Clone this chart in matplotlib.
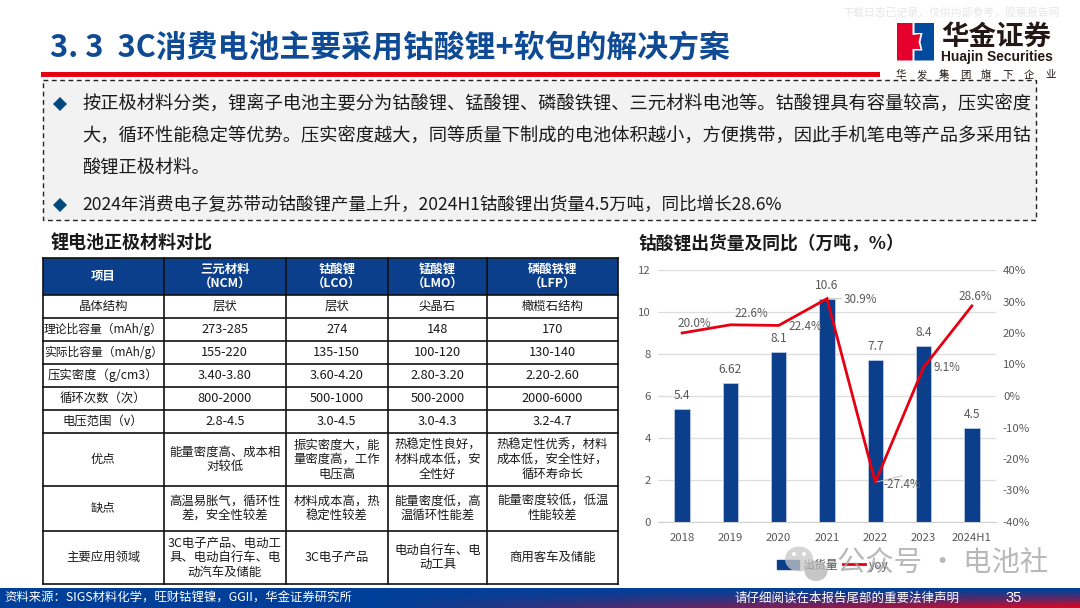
# -*- coding: utf-8 -*-
import numpy as np
import matplotlib
matplotlib.use('Agg')
import matplotlib.pyplot as plt
from matplotlib.patches import Rectangle, Polygon, Ellipse
from matplotlib.lines import Line2D

plt.rcParams['font.family'] = ['Noto Sans CJK SC', 'DejaVu Sans']
plt.rcParams['axes.unicode_minus'] = False

# Data
years = ['2018', '2019', '2020', '2021', '2022', '2023', '2024H1']
shipments = [5.4, 6.62, 8.1, 10.6, 7.7, 8.4, 4.5]
shipment_labels = ['5.4', '6.62', '8.1', '10.6', '7.7', '8.4', '4.5']
yoy = [20.0, 22.6, 22.4, 30.9, -27.4, 9.1, 28.6]
left_ticks = [0, 2, 4, 6, 8, 10, 12]
right_ticks = [-40, -30, -20, -10, 0, 10, 20, 30, 40]

table_header = ['项目', '三元材料\n（NCM）', '钴酸锂\n（LCO）', '锰酸锂\n（LMO）', '磷酸铁锂\n（LFP）']
table_rows = [
    ['晶体结构', '层状', '层状', '尖晶石', '橄榄石结构'],
    ['理论比容量（mAh/g）', '273-285', '274', '148', '170'],
    ['实际比容量（mAh/g）', '155-220', '135-150', '100-120', '130-140'],
    ['压实密度（g/cm3）', '3.40-3.80', '3.60-4.20', '2.80-3.20', '2.20-2.60'],
    ['循环次数（次）', '800-2000', '500-1000', '500-2000', '2000-6000'],
    ['电压范围（v）', '2.8-4.5', '3.0-4.5', '3.0-4.3', '3.2-4.7'],
    ['优点', '能量密度高、成本相\n对较低', '振实密度大，能\n量密度高，工作\n电压高',
     '热稳定性良好，\n材料成本低，安\n全性好', '热稳定性优秀，材料\n成本低，安全性好，\n循环寿命长'],
    ['缺点', '高温易胀气，循环性\n差，安全性较差', '材料成本高，热\n稳定性较差',
     '能量密度低，高\n温循环性能差', '能量密度较低，低温\n性能较差'],
    ['主要应用领域', '3C电子产品、电动工\n具、电动自行车、电\n动汽车及储能', '3C电子产品',
     '电动自行车、电\n动工具', '商用客车及储能'],
]

title = '3. 3  3C消费电池主要采用钴酸锂+软包的解决方案'
body_lines = [
    '按正极材料分类，锂离子电池主要分为钴酸锂、锰酸锂、磷酸铁锂、三元材料电池等。钴酸锂具有容量较高，压实密度',
    '大，循环性能稳定等优势。压实密度越大，同等质量下制成的电池体积越小，方便携带，因此手机笔电等产品多采用钴',
    '酸锂正极材料。',
    '2024年消费电子复苏带动钴酸锂产量上升，2024H1钴酸锂出货量4.5万吨，同比增长28.6%',
]

NAVY = '#0B3F8C'
RED = '#E60012'
GREY = '#595959'

fig = plt.figure(figsize=(10.8, 6.08), dpi=100)

# page layer in pixel coordinates, y pointing down
page = fig.add_axes([0, 0, 1, 1])
page.set_xlim(0, 1080)
page.set_ylim(608, 0)
page.axis('off')

# header
page.text(50, 48, title, fontsize=22.2, fontweight='bold', color='#0F4A95', va='center', ha='left')
page.add_patch(Rectangle((41, 72), 839, 4.5, color=RED, lw=0))
page.text(1060, 12, '下载日志已记录，仅供内部参考，股票报告网', fontsize=7.8, color='#E6E6E6', va='center', ha='right')

# logo
page.add_patch(Polygon([(897, 23), (912.5, 23), (912.5, 35), (920.5, 34), (918.5, 42), (920.5, 49),
                        (912.5, 49), (912.5, 60.5), (897, 60.5)], color='#E4002B', lw=0))
page.add_patch(Polygon([(914.5, 23), (934, 23), (934, 60.5), (914.5, 60.5), (914.5, 50.5), (922.5, 50.5),
                        (920.5, 42), (922.5, 33), (914.5, 33)], color='#004B9E', lw=0))
page.text(941, 37, '华金证券', fontsize=19.8, fontweight='bold', color='#231815', va='center', ha='left')
page.text(941, 56.5, 'Huajin Securities', fontsize=9.9, fontweight='bold', color='#231815', va='center', ha='left',
          family='Liberation Sans')
for k, ch in enumerate('华发集团旗下企业'):
    page.text(901 + k * 21.3, 75, ch, fontsize=7.5, color='#231815', va='center', ha='center')

# summary box
page.add_patch(Rectangle((43, 80), 993, 140, facecolor='#F2F2F2', edgecolor='#222222', lw=1,
                         linestyle=(0, (3.5, 2.5))))
for y0 in [104, 205]:
    page.add_patch(Polygon([(53, y0), (60, y0 - 7), (67, y0), (60, y0 + 7)], color='#004A80', lw=0))
for txt, y0, size in zip(body_lines, [105, 137, 169, 205], [13.15, 13.15, 13.15, 12.6]):
    page.text(82, y0, txt, fontsize=size, color='#1A1A1A', va='center', ha='left')

# table
page.text(51, 243, '锂电池正极材料对比', fontsize=13, fontweight='bold', color='#1A1A1A', va='center', ha='left')
col_x = [42.5, 164, 285.5, 388, 487, 618]
row_y = [258, 295, 318, 341, 364, 387, 410, 433, 486, 531, 584]
for j in range(5):
    page.add_patch(Rectangle((col_x[j], row_y[0]), col_x[j + 1] - col_x[j], row_y[1] - row_y[0],
                             facecolor=NAVY, edgecolor='none'))
    page.text((col_x[j] + col_x[j + 1]) / 2, (row_y[0] + row_y[1]) / 2, table_header[j], fontsize=8.9,
              fontweight='bold', color='white', ha='center', va='center', linespacing=1.15)
for i, row in enumerate(table_rows):
    for j, cell in enumerate(row):
        size = 8.9
        if j == 0 and i in (1, 2):
            size = 8.5
        if j > 0 and 1 <= i <= 5:
            size = 9.2
        page.text((col_x[j] + col_x[j + 1]) / 2, (row_y[i + 1] + row_y[i + 2]) / 2, cell, fontsize=size,
                  color='#1A1A1A', ha='center', va='center', linespacing=1.15)
for x in col_x:
    page.plot([x, x], [row_y[0], row_y[-1]], color='#111111', lw=1.2, solid_capstyle='projecting')
for y in row_y:
    page.plot([col_x[0], col_x[-1]], [y, y], color='#111111', lw=1.2, solid_capstyle='projecting')

# chart
page.text(638, 243, '钴酸锂出货量及同比（万吨，%）', fontsize=12.8, fontweight='bold', color='#1A1A1A', va='center', ha='left')
ax = fig.add_axes([658 / 1080, 1 - 522 / 608, (996 - 658) / 1080, (522 - 270) / 608])
ax.patch.set_alpha(0)
pos = np.arange(len(years))
ax.bar(pos, shipments, width=0.32, color=NAVY, edgecolor='#C5D3E8', linewidth=0.5, zorder=2)
ax.set_xlim(-0.5, 6.5)
ax.set_ylim(0, 12)
ax.set_yticks(left_ticks)
ax.set_xticks(pos)
ax.set_xticklabels(years)
ax.grid(axis='y', color='#DDDDDD', lw=0.9, zorder=0)
ax.set_axisbelow(True)
ax.tick_params(axis='x', length=0, labelsize=8.2, labelcolor=GREY, pad=8)
ax.tick_params(axis='y', length=0, labelsize=8.2, labelcolor=GREY, pad=5)
for s in ['top', 'left', 'right']:
    ax.spines[s].set_visible(False)
ax.spines['bottom'].set_color('#D0D0D0')
for xp, val, lab in zip(pos, shipments, shipment_labels):
    ax.annotate(lab, (xp, val), xytext=(0, 5), textcoords='offset points', ha='center', va='bottom',
                fontsize=8.6, color=GREY)

ax2 = ax.twinx()
ax2.patch.set_alpha(0)
ax2.plot(pos, yoy, color=RED, lw=2, solid_joinstyle='miter', zorder=5)
ax2.set_ylim(-40, 40)
ax2.set_yticks(right_ticks)
ax2.set_yticklabels(['%d%%' % t for t in right_ticks])
ax2.tick_params(axis='y', length=0, labelsize=8.2, labelcolor=GREY, pad=5)
for s in ax2.spines.values():
    s.set_visible(False)

yoy_offsets = [(9, 6.5), (15, 8), (19, -0.5), (24, -0.7), (19.5, -1.5), (16.5, 0), (2.5, 7)]
for xp, val, off in zip(pos, yoy, yoy_offsets):
    ax2.annotate('%.1f%%' % val, (xp, val), xytext=off, textcoords='offset points', ha='center', va='center',
                 fontsize=8.4, color=GREY, zorder=6)
# leader lines on the 2021 and 2022 labels
ax2.annotate('', (3, 30.9), xytext=(3.3, 30.9),
             arrowprops=dict(arrowstyle='-', color='#BFBFBF', lw=0.7, shrinkA=0, shrinkB=0))
ax2.annotate('', (4, -27.4), xytext=(4.56, -25.3),
             arrowprops=dict(arrowstyle='-', color='#BFBFBF', lw=0.7, shrinkA=0, shrinkB=0))

handles = [Rectangle((0, 0), 1, 1, color=NAVY), Line2D([0], [0], color=RED, lw=2)]
fig.legend(handles, ['出货量', 'yoy'], loc='center left', bbox_to_anchor=(777 / 1080, 1 - 565 / 608), ncol=2,
           frameon=False, fontsize=8.6, labelcolor=GREY, handlelength=1.85, handleheight=0.7,
           handletextpad=0.3, columnspacing=0.4, borderpad=0, borderaxespad=0)

# wechat watermark on top of everything
over = fig.add_axes([0, 0, 1, 1], zorder=10)
over.set_xlim(0, 1080)
over.set_ylim(608, 0)
over.axis('off')
over.add_patch(Ellipse((799, 559), 28, 25, color='#C8C8C8', alpha=0.75, lw=0))
over.add_patch(Ellipse((816, 571), 23, 20, color='#B4B4B4', alpha=0.75, lw=0))
over.add_patch(Ellipse((794, 554), 4, 4, color='white', lw=0))
over.add_patch(Ellipse((804, 554), 4, 4, color='white', lw=0))
over.text(837, 564, '公众号 · 电池社', fontsize=20.4, color='#A6A6A6', alpha=0.8, va='center', ha='left')

# footer, blue on top fading to red at the lower right
nx, ny = 540, 20
gx = np.clip((np.linspace(0, 1, nx) - 0.35) / 0.65, 0, 1)[None, :]
gy = np.linspace(0, 1, ny)[:, None] ** 1.3
mix = (gx * gy)[:, :, None]
blue = np.array([0.0, 0.25, 0.6])
red = np.array([0.88, 0.02, 0.12])
page.imshow(blue * (1 - mix) + red * mix, extent=(0, 1080, 608, 588), aspect='auto', zorder=3)
page.set_xlim(0, 1080)
page.set_ylim(608, 0)
page.text(4, 598, '资料来源：SIGS材料化学，旺财钴锂镍，GGII，华金证券研究所', fontsize=8.9, color='white',
          style='italic', va='center', ha='left', zorder=4)
page.text(847, 598, '请仔细阅读在本报告尾部的重要法律声明', fontsize=9, color='white', va='center', ha='center', zorder=4)
page.text(1014, 598, '35', fontsize=10.5, color='white', va='center', ha='center', zorder=4,
          family='Liberation Sans')

fig.savefig('out.png', dpi=100)
